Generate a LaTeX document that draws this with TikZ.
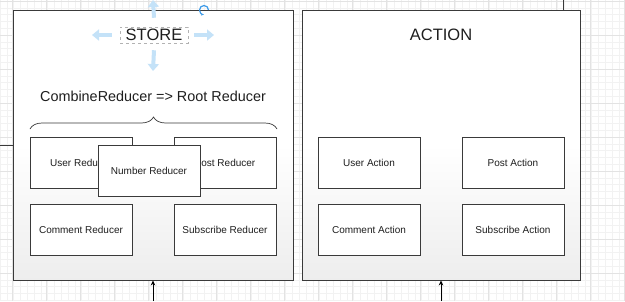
\documentclass[tikz,border=0pt]{standalone}
\usepackage{fontspec}
\setmainfont{Liberation Sans}
\usepackage{tikz}
\usetikzlibrary{arrows.meta, positioning, calc, decorations.pathreplacing}
\definecolor{gridc}{HTML}{F2F2F2}
\definecolor{gridd}{HTML}{E3E3E3}
\definecolor{edgec}{HTML}{3A3A3A}
\definecolor{txtc}{HTML}{1E1E1E}
\definecolor{hndc}{HTML}{C4E2F8}
\definecolor{rotc}{HTML}{3D9BE9}

\begin{document}
\begin{tikzpicture}[x=1pt, y=-1pt, >=Stealth, line width=0.8pt,
      font=\fontsize{10}{12}\selectfont, text=txtc,
      panel/.style={draw=edgec, line width=0.9pt, minimum width=280pt,
        minimum height=270pt, inner sep=0pt,
        top color=white, bottom color=gray!14, middle color=white},
      rbox/.style={draw=edgec, line width=0.7pt, fill=white,
        minimum width=102pt, minimum height=51pt, inner sep=0pt},
      title/.style={font=\fontsize{16.5}{18}\selectfont},
      handle/.style={hndc, line width=4pt, -{Triangle[width=11pt, length=7pt]}}]
    \useasboundingbox (0,0) rectangle (625,301);
    \fill[white] (0,0) rectangle (625,301);
    % canvas grid
    \foreach \gx in {0,6.8,...,625}{
      \draw[gridc, line width=0.4pt] (\gx,0) -- (\gx,301);
    }
    \foreach \gy in {1,7.8,...,301}{
      \draw[gridc, line width=0.4pt] (0,\gy) -- (625,\gy);
    }
    \foreach \gx in {12,46,...,625}{
      \draw[gridd, line width=0.5pt] (\gx,0) -- (\gx,301);
    }
    \foreach \gy in {1,35,...,301}{
      \draw[gridd, line width=0.5pt] (0,\gy) -- (625,\gy);
    }
    % the two containers
    \node[panel] (store) at (153,145) {};
    \node[panel, minimum width=278pt] (action) at (441,145) {};
    \coordinate (ll) at (0,145);
    \coordinate (tl) at (563,0);
    \draw[edgec] (ll) -- (store.west);
    \draw[edgec] (tl) -- (tl |- action.north);
    \coordinate (sb) at (153,301);
    \coordinate (ab) at (441,301);
    \draw[->, >={Stealth[length=5pt, width=4.5pt]}, black] (sb) -- (store.south);
    \draw[->, >={Stealth[length=5pt, width=4.5pt]}, black] (ab) -- (action.south);
    % titles
    \node[title, draw=gray!60, dashed, line width=0.5pt, inner sep=2pt,
          minimum width=68pt, minimum height=16pt] (stt) at (154,35) {STORE};
    \node[title] (act) at (441,35) {ACTION};
    \draw[handle] (stt.north) ++(0,-9) -- (153,0);
    \draw[handle] (stt.south) ++(0,7) -- (153,71);
    \draw[handle] (stt.west) ++(-8,0) -- (92,35);
    \draw[handle] (stt.east) ++(6,0) -- (214,35);
    \draw[rotc, line width=1.2pt, ->, >={Stealth[length=3pt]}]
      (208.5,10) arc[start angle=0, end angle=-270, radius=4.5];
    % reducers
    \node[font=\fontsize{14.4}{16}\selectfont] (root) at (153,96)
      {CombineReducer => Root Reducer};
    \draw[edgec, line width=0.7pt, decorate,
          decoration={brace, amplitude=12pt}] (30,129) -- (277,129);
    \foreach \nm/\cx/\cy/\lb in {ur/81/162.5/User Reducer,
        pr/225/162.5/Post Reducer, cr/81/230/Comment Reducer,
        sr/225/230/Subscribe Reducer, nr/149/170.5/Number Reducer}{
      \node[rbox] (\nm) at (\cx,\cy) {\lb};
    }
    % actions
    \foreach \nm/\cx/\cy/\lb in {ua/369/162.5/User Action,
        pa/513/162.5/Post Action, ca/369/230/Comment Action,
        sa/513/230/Subscribe Action}{
      \node[rbox] (\nm) at (\cx,\cy) {\lb};
    }
  \end{tikzpicture}
\end{document}
